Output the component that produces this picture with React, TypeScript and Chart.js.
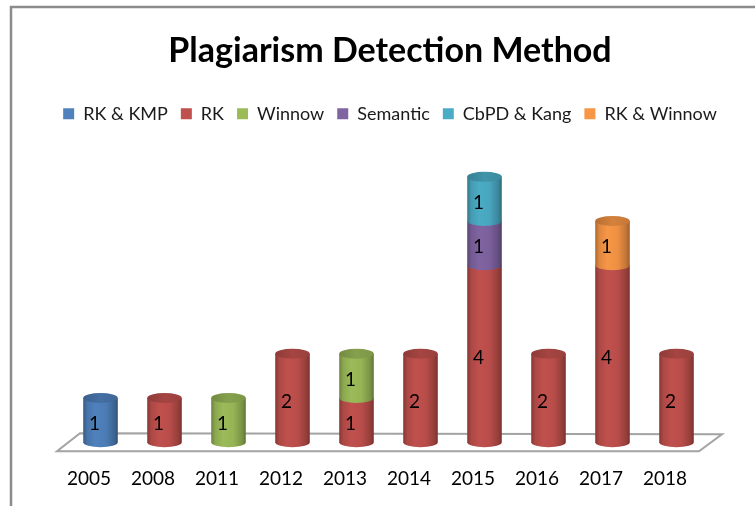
import React, { useEffect, useRef } from 'react';
import { Chart, registerables } from 'chart.js';

Chart.register(...registerables);

const years = ['2005', '2008', '2011', '2012', '2013', '2014', '2015', '2016', '2017', '2018'];
const rkKmp = [1, null, null, null, null, null, null, null, null, null];
const rk = [null, 1, null, 2, 1, 2, 4, 2, 4, 2];
const winnow = [null, null, 1, null, 1, null, null, null, null, null];
const semantic = [null, null, null, null, null, null, 1, null, null, null];
const cbpdKang = [null, null, null, null, null, null, 1, null, null, null];
const rkWinnow = [null, null, null, null, null, null, null, null, 1, null];
const seriesNames = ['RK & KMP', 'RK', 'Winnow', 'Semantic', 'CbPD & Kang', 'RK & Winnow'];
const seriesColors = ['#4F81BD', '#C0504D', '#9BBB59', '#8064A2', '#4BACC6', '#F79646'];
const seriesData = [rkKmp, rk, winnow, semantic, cbpdKang, rkWinnow];

function shade(hex: string, f: number): string {
  const n = parseInt(hex.slice(1), 16);
  const r = Math.min(255, Math.round(((n >> 16) & 255) * f));
  const g = Math.min(255, Math.round(((n >> 8) & 255) * f));
  const b = Math.min(255, Math.round((n & 255) * f));
  return `rgb(${r},${g},${b})`;
}

const DEPTH_X = 23;
const DEPTH_Y = -18;

const cylinderPlugin = {
  id: 'cylinders',
  beforeDraw(chart: any) {
    const { ctx, width, height } = chart;
    ctx.save();
    ctx.fillStyle = '#ffffff';
    ctx.fillRect(0, 0, width, height);
    ctx.strokeStyle = '#8c8c8c';
    ctx.lineWidth = 2.5;
    ctx.beginPath();
    ctx.moveTo(11, height);
    ctx.lineTo(11, 7);
    ctx.lineTo(width, 7);
    ctx.stroke();
    ctx.restore();
  },
  beforeDatasetsDraw(chart: any) {
    const { ctx, chartArea } = chart;
    const ys = chart.scales.y;
    const y0 = ys.getPixelForValue(0);
    // floor
    ctx.save();
    ctx.strokeStyle = '#a3a3a3';
    ctx.lineWidth = 2;
    ctx.fillStyle = '#ffffff';
    ctx.beginPath();
    ctx.moveTo(chartArea.left, y0);
    ctx.lineTo(chartArea.right + 2, y0);
    ctx.lineTo(chartArea.right + 2 + DEPTH_X, y0 + DEPTH_Y + 1);
    ctx.lineTo(chartArea.left + DEPTH_X, y0 + DEPTH_Y);
    ctx.closePath();
    ctx.fill();
    ctx.stroke();
    ctx.restore();

    const n = chart.data.labels.length;
    const topIdx: number[] = new Array(n).fill(-1);
    chart.data.datasets.forEach((ds: any, di: number) =>
      ds.data.forEach((v: any, i: number) => {
        if (v) topIdx[i] = di;
      })
    );
    const ox = DEPTH_X / 2;
    const oy = DEPTH_Y / 2;
    const ry = 5;
    const labels: any[] = [];
    chart.data.datasets.forEach((ds: any, di: number) => {
      const meta = chart.getDatasetMeta(di);
      const color = seriesColors[di];
      meta.data.forEach((bar: any, i: number) => {
        const v = ds.data[i];
        if (!v) return;
        const p = bar.getProps(['x', 'y', 'base', 'width'], true);
        const cx = p.x + ox;
        const top = p.y + oy;
        const bot = p.base + oy;
        const rx = p.width / 2;
        ctx.save();
        const g = ctx.createLinearGradient(cx - rx, 0, cx + rx, 0);
        g.addColorStop(0, shade(color, 0.7));
        g.addColorStop(0.12, shade(color, 0.9));
        g.addColorStop(0.35, shade(color, 1.0));
        g.addColorStop(0.65, shade(color, 0.96));
        g.addColorStop(0.9, shade(color, 0.78));
        g.addColorStop(1, shade(color, 0.62));
        ctx.fillStyle = g;
        ctx.beginPath();
        ctx.moveTo(cx - rx, top);
        ctx.lineTo(cx - rx, bot);
        ctx.ellipse(cx, bot, rx, ry, 0, Math.PI, 0, true);
        ctx.lineTo(cx + rx, top);
        ctx.closePath();
        ctx.fill();
        if (topIdx[i] === di) {
          const tg = ctx.createLinearGradient(cx - rx, 0, cx + rx, 0);
          tg.addColorStop(0, shade(color, 0.74));
          tg.addColorStop(0.5, shade(color, 0.86));
          tg.addColorStop(1, shade(color, 0.8));
          ctx.fillStyle = tg;
          ctx.beginPath();
          ctx.ellipse(cx, top, rx, ry, 0, 0, Math.PI * 2);
          ctx.fill();
        }
        ctx.restore();
        labels.push({ x: cx - 6, y: (top + bot) / 2 + 4, text: String(v) });
      });
    });
    ctx.save();
    ctx.fillStyle = '#000000';
    ctx.font = '19px Lato';
    ctx.textAlign = 'center';
    ctx.textBaseline = 'middle';
    labels.forEach((l) => ctx.fillText(l.text, l.x, l.y));
    ctx.restore();
    return false;
  },
};

export default function App() {
  const ref = useRef<HTMLCanvasElement | null>(null);
  useEffect(() => {
    if (!ref.current) return;
    const chart = new Chart(ref.current, {
      type: 'bar',
      data: {
        labels: years,
        datasets: seriesNames.map((name, i) => ({
          label: name,
          data: seriesData[i],
          backgroundColor: seriesColors[i],
          borderWidth: 0,
          categoryPercentage: 1,
          barPercentage: 0.54,
        })),
      },
      options: {
        animation: false,
        responsive: false,
        devicePixelRatio: 1,
        layout: { padding: { left: 25, right: 0, top: 0, bottom: 0 } },
        plugins: {
          title: {
            display: true,
            text: 'Plagiarism Detection Method',
            color: '#000000',
            font: { family: 'Lato', size: 34, weight: 'bold' },
            padding: { top: 31, bottom: 20 },
          },
          legend: {
            display: true,
            position: 'top',
            labels: {
              boxWidth: 11,
              boxHeight: 11,
              padding: 13,
              color: '#1a1a1a',
              font: { family: 'Lato', size: 18 },
            },
          },
          tooltip: { enabled: false },
        },
        scales: {
          x: {
            stacked: true,
            offset: true,
            grid: { display: false, drawTicks: false },
            border: { display: false },
            ticks: {
              color: '#000000',
              font: { family: 'Lato', size: 19 },
              padding: 16,
              maxRotation: 0,
              autoSkip: false,
            },
          },
          y: {
            stacked: true,
            min: 0,
            max: 7.2,
            position: 'left',
            grid: { display: false, drawTicks: false },
            border: { display: false },
            ticks: { display: false },
            afterFit: (s: any) => {
              s.width = 32;
            },
          },
          y2: {
            type: 'linear',
            position: 'right',
            grid: { display: false, drawTicks: false },
            border: { display: false },
            ticks: { display: false },
            afterFit: (s: any) => {
              s.width = 58;
            },
          },
        },
      },
      plugins: [cylinderPlugin],
    });
    return () => chart.destroy();
  }, []);
  return (
    <div style={{ position: 'absolute', left: 0, top: 0, width: 755, height: 506, overflow: 'hidden' }}>
      <canvas ref={ref} width={755} height={506} />
    </div>
  );
}
